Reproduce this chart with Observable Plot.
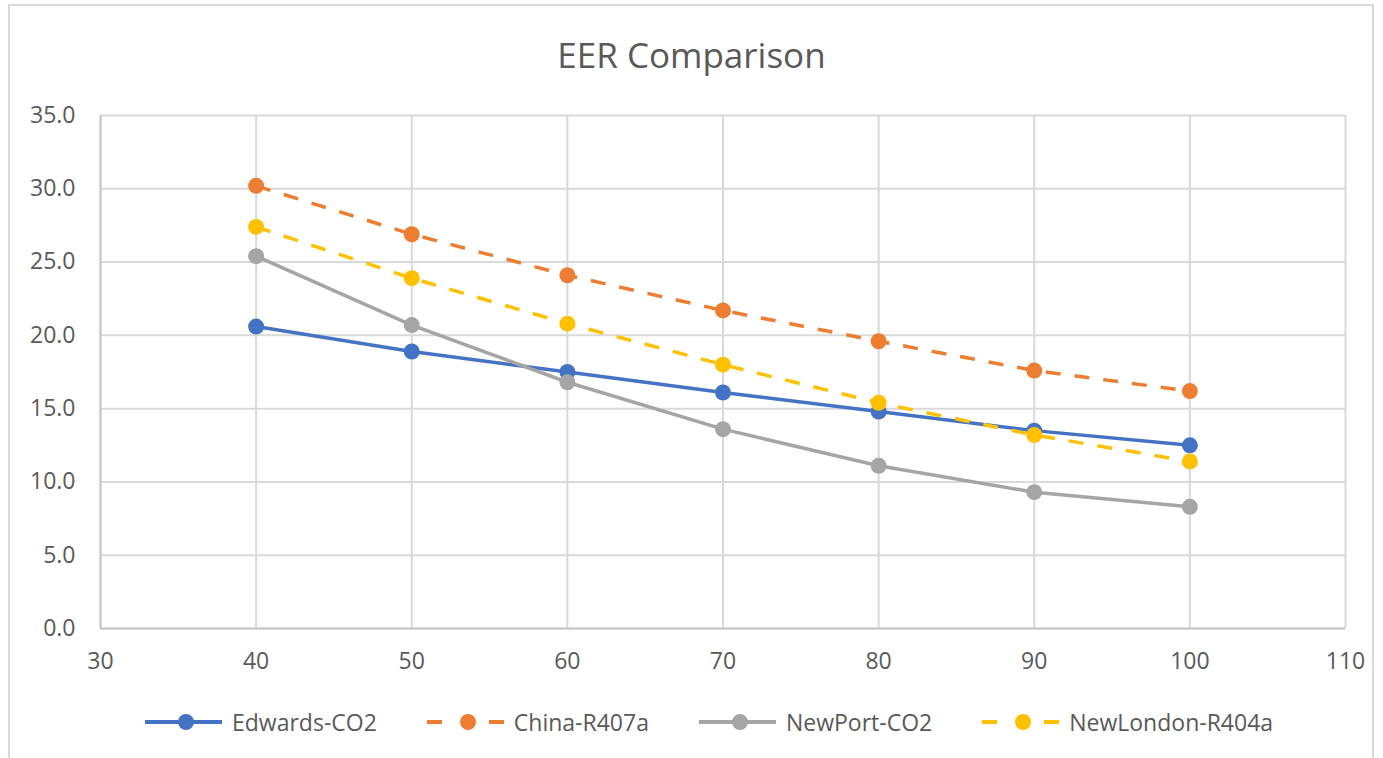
<!DOCTYPE html>
<html>
<head>
<meta charset="utf-8">
<script src="https://cdn.jsdelivr.net/npm/d3@7"></script>
<script src="https://cdn.jsdelivr.net/npm/@observablehq/plot@0.6"></script>
<style>
  html, body { margin: 0; padding: 0; background: #fff; }
  #wrap { position: relative; width: 1383px; height: 758px; overflow: hidden; font-family: "Open Sans", "Noto Sans", sans-serif; }
  #border { position: absolute; left: 8px; top: 4px; width: 1366px; height: 800px; border: 2px solid #d9d9d9; box-sizing: border-box; }
  #title { position: absolute; left: 0; width: 1383px; top: 31px; text-align: center; font-size: 35px; color: #595959; line-height: 48px; }
  #legend { position: absolute; left: 145px; top: 706px; display: flex; gap: 50px; align-items: center; font-size: 23px; color: #595959; }
  .item { display: flex; align-items: center; gap: 10px; }
  #chart { position: absolute; left: 0; top: 0; }
</style>
</head>
<body>
<div id="wrap">
  <div id="border"></div>
  <div id="chart"></div>
  <div id="title">EER Comparison</div>
  <div id="legend"></div>
</div>
<script>
const xValues = [40, 50, 60, 70, 80, 90, 100];
const edwardsCO2 = [20.6, 18.9, 17.5, 16.1, 14.8, 13.5, 12.5];
const chinaR407a = [30.2, 26.9, 24.1, 21.7, 19.6, 17.6, 16.2];
const newPortCO2 = [25.4, 20.7, 16.8, 13.6, 11.1, 9.3, 8.3];
const newLondonR404a = [27.4, 23.9, 20.8, 18.0, 15.4, 13.2, 11.4];
const xTicks = [30, 40, 50, 60, 70, 80, 90, 100, 110];
const yTicks = [0, 5, 10, 15, 20, 25, 30, 35];

const series = [
  { name: "Edwards-CO2", values: edwardsCO2, color: "#4472C4", dash: null },
  { name: "China-R407a", values: chinaR407a, color: "#ED7D31", dash: "15,14" },
  { name: "NewPort-CO2", values: newPortCO2, color: "#A5A5A5", dash: null },
  { name: "NewLondon-R404a", values: newLondonR404a, color: "#FFC000", dash: "15,14" }
];

const marks = [
  Plot.gridX(xTicks, { stroke: "#d9d9d9", strokeOpacity: 1, strokeWidth: 2 }),
  Plot.gridY(yTicks, { stroke: "#d9d9d9", strokeOpacity: 1, strokeWidth: 2 }),
  Plot.ruleY([0], { stroke: "#c8c8c8", strokeWidth: 2 }),
  Plot.ruleX([30], { stroke: "#c8c8c8", strokeWidth: 2 }),
  Plot.axisX(xTicks, { tickSize: 0, tickPadding: 24, fontSize: 23, fill: "#595959", label: null }),
  Plot.axisY(yTicks, { tickSize: 0, tickPadding: 25, fontSize: 23, fill: "#595959", label: null, tickFormat: d3.format(".1f") })
];

for (const s of series) {
  const rows = xValues.map((x, i) => ({ x, y: s.values[i] }));
  marks.push(Plot.line(rows, { x: "x", y: "y", stroke: s.color, strokeWidth: 3.5, strokeDasharray: s.dash ?? undefined, strokeLinecap: "butt" }));
  marks.push(Plot.dot(rows, { x: "x", y: "y", r: 8, fill: s.color, stroke: "none" }));
}

const chart = Plot.plot({
  width: 1383,
  height: 758,
  marginLeft: 100,
  marginRight: 38,
  marginTop: 115,
  marginBottom: 130,
  style: { fontFamily: "'Open Sans', 'Noto Sans', sans-serif", background: "transparent" },
  x: { domain: [30, 110] },
  y: { domain: [0, 35] },
  marks
});
document.getElementById("chart").appendChild(chart);

const legend = document.getElementById("legend");
for (const s of series) {
  const item = document.createElement("div");
  item.className = "item";
  const ns = "http://www.w3.org/2000/svg";
  const svg = document.createElementNS(ns, "svg");
  svg.setAttribute("width", 77);
  svg.setAttribute("height", 20);
  const line = document.createElementNS(ns, "line");
  line.setAttribute("x1", 0); line.setAttribute("x2", 77);
  line.setAttribute("y1", 10); line.setAttribute("y2", 10);
  line.setAttribute("stroke", s.color);
  line.setAttribute("stroke-width", 4);
  if (s.dash) line.setAttribute("stroke-dasharray", "15,47");
  svg.appendChild(line);
  const c = document.createElementNS(ns, "circle");
  c.setAttribute("cx", 41); c.setAttribute("cy", 10); c.setAttribute("r", 8);
  c.setAttribute("fill", s.color);
  svg.appendChild(c);
  item.appendChild(svg);
  const t = document.createElement("span");
  t.textContent = s.name;
  item.appendChild(t);
  legend.appendChild(item);
}
</script>
</body>
</html>
